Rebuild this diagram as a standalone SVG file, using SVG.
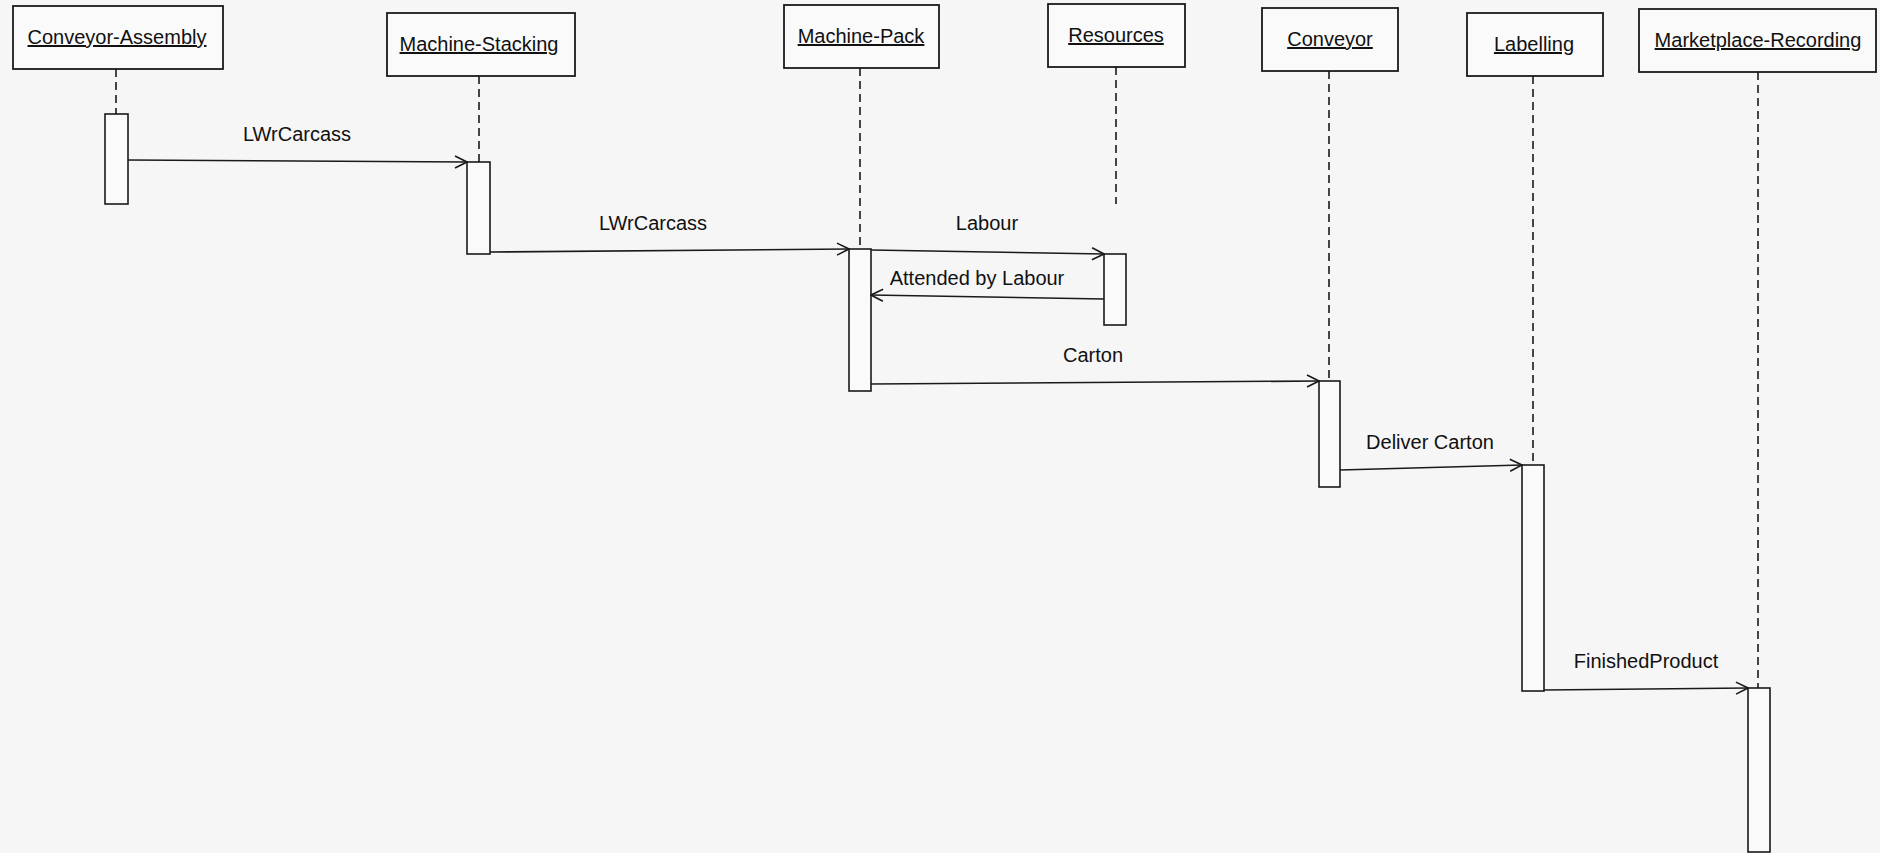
<svg xmlns="http://www.w3.org/2000/svg" width="1880" height="853" viewBox="0 0 1880 853">
  <style>
    .box { fill: #fafafa; stroke: #1a1a1a; stroke-width: 1.8; }
    .act { fill: #fafafa; stroke: #1a1a1a; stroke-width: 1.6; }
    .life { stroke: #1a1a1a; stroke-width: 1.6; stroke-dasharray: 8 5; fill: none; }
    .msg { stroke: #1a1a1a; stroke-width: 1.6; fill: none; marker-end: url(#open); }
    .name { font-family: "Liberation Sans", Arial, sans-serif; font-size: 20px; fill: #111; text-anchor: middle; text-decoration: underline; }
    .lbl { font-family: "Liberation Sans", Arial, sans-serif; font-size: 20px; fill: #111; text-anchor: middle; }
  </style>
  <defs>
    <marker id="open" viewBox="0 0 14 14" refX="13" refY="7" markerWidth="14" markerHeight="14" markerUnits="userSpaceOnUse" orient="auto">
      <path d="M1,1 L13,7 L1,13" fill="none" stroke="#1a1a1a" stroke-width="1.6"/>
    </marker>
  </defs>

  <rect width="1880" height="853" fill="#f6f6f6"/>

  <!-- participants: header box, lifeline, activation bar -->
  <g id="conveyor-assembly">
    <rect class="box" x="13" y="6" width="210" height="63"/>
    <text class="name" x="117" y="44">Conveyor-Assembly</text>
    <line class="life" x1="116" y1="69" x2="116" y2="114"/>
    <rect class="act" x="105" y="114" width="23" height="90"/>
  </g>

  <g id="machine-stacking">
    <rect class="box" x="387" y="13" width="188" height="63"/>
    <text class="name" x="479" y="51">Machine-Stacking</text>
    <line class="life" x1="479" y1="76" x2="479" y2="162"/>
    <rect class="act" x="467" y="162" width="23" height="92"/>
  </g>

  <g id="machine-pack">
    <rect class="box" x="784" y="5" width="155" height="63"/>
    <text class="name" x="861" y="43">Machine-Pack</text>
    <line class="life" x1="860" y1="68" x2="860" y2="249"/>
    <rect class="act" x="849" y="249" width="22" height="142"/>
  </g>

  <g id="resources">
    <rect class="box" x="1048" y="4" width="137" height="63"/>
    <text class="name" x="1116" y="42">Resources</text>
    <line class="life" x1="1116" y1="67" x2="1116" y2="204"/>
    <rect class="act" x="1104" y="254" width="22" height="71"/>
  </g>

  <g id="conveyor">
    <rect class="box" x="1262" y="8" width="136" height="63"/>
    <text class="name" x="1330" y="46">Conveyor</text>
    <line class="life" x1="1329" y1="71" x2="1329" y2="381"/>
    <rect class="act" x="1319" y="381" width="21" height="106"/>
  </g>

  <g id="labelling">
    <rect class="box" x="1467" y="13" width="136" height="63"/>
    <text class="name" x="1534" y="51">Labelling</text>
    <line class="life" x1="1533" y1="76" x2="1533" y2="465"/>
    <rect class="act" x="1522" y="465" width="22" height="226"/>
  </g>

  <g id="marketplace-recording">
    <rect class="box" x="1639" y="9" width="237" height="63"/>
    <text class="name" x="1758" y="47">Marketplace-Recording</text>
    <line class="life" x1="1758" y1="72" x2="1758" y2="688"/>
    <rect class="act" x="1748" y="688" width="22" height="164"/>
  </g>

  <!-- messages -->
  <g id="messages">
    <line class="msg" x1="128" y1="160" x2="467" y2="162"/>
    <text class="lbl" x="297" y="141">LWrCarcass</text>

    <line class="msg" x1="490" y1="252" x2="849" y2="249"/>
    <text class="lbl" x="653" y="230">LWrCarcass</text>

    <line class="msg" x1="871" y1="250" x2="1104" y2="254"/>
    <text class="lbl" x="987" y="230">Labour</text>

    <line class="msg" x1="1104" y1="299" x2="871" y2="295"/>
    <text class="lbl" x="977" y="285">Attended by Labour</text>

    <line class="msg" x1="871" y1="384" x2="1319" y2="381"/>
    <text class="lbl" x="1093" y="362">Carton</text>

    <line class="msg" x1="1340" y1="470" x2="1522" y2="465"/>
    <text class="lbl" x="1430" y="449">Deliver Carton</text>

    <line class="msg" x1="1544" y1="690" x2="1748" y2="688"/>
    <text class="lbl" x="1646" y="668">FinishedProduct</text>
  </g>
</svg>
